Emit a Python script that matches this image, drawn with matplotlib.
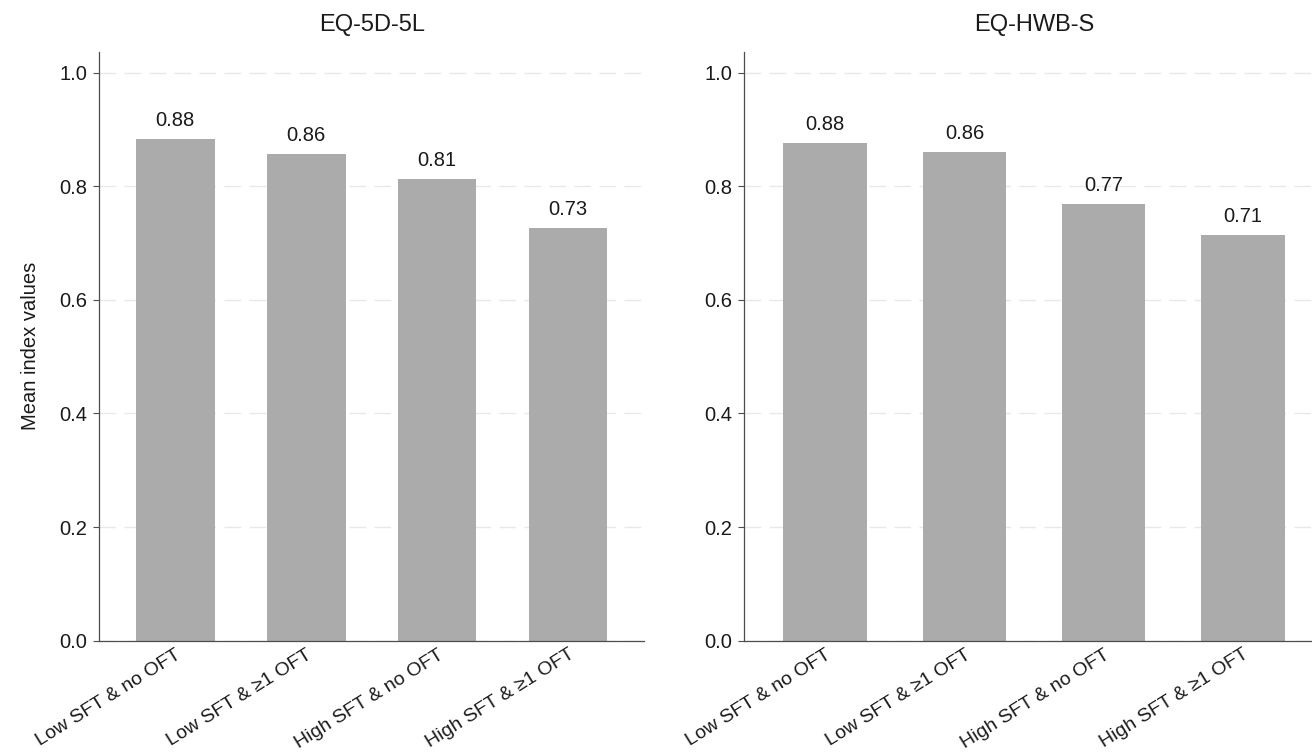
import matplotlib
matplotlib.use("Agg")
import matplotlib.pyplot as plt
import numpy as np

plt.rcParams['font.family'] = ['Liberation Sans', 'DejaVu Sans']

# Данные
groups = ['Low SFT & no OFT', 'Low SFT & \u22651 OFT', 'High SFT & no OFT', 'High SFT & \u22651 OFT']
eq5d = [0.883, 0.857, 0.813, 0.727]
eqhwb = [0.877, 0.861, 0.769, 0.714]
titles = ['EQ-5D-5L', 'EQ-HWB-S']
yticks = [0.0, 0.2, 0.4, 0.6, 0.8, 1.0]

bar_color = '#ababab'
text_color = '#1a1a1a'
spine_color = '#4d4d4d'

fig = plt.figure(figsize=(13.12, 7.54), dpi=100)
ax1 = fig.add_axes([0.0757, 0.1505, 0.4152, 0.7806])
ax2 = fig.add_axes([0.5673, 0.1505, 0.4417, 0.7806])

x = np.arange(len(groups))

for ax, vals, title in [(ax1, eq5d, titles[0]), (ax2, eqhwb, titles[1])]:
    ax.set_axisbelow(True)
    ax.yaxis.grid(True, color='#e8e8e8', linestyle=(0, (12, 6)), linewidth=1)
    ax.bar(x, vals, width=0.6, color=bar_color, zorder=2)
    for xi, v in zip(x, vals):
        ax.annotate(f'{v:.2f}', (xi, v), xytext=(0, 9.5), textcoords='offset points',
                    ha='center', va='baseline', fontsize=14.5, color=text_color)
    ax.set_xlim(-0.58, 3.58)
    ax.set_ylim(0, 1.037)
    ax.set_yticks(yticks)
    ax.set_yticklabels([f'{t:.1f}' for t in yticks])
    ax.set_xticks(x)
    ax.set_xticklabels(groups, rotation=32, ha='right', va='top', rotation_mode='anchor')
    ax.tick_params(axis='y', length=4.5, width=0.8, color=spine_color, pad=4,
                   labelsize=14.5, labelcolor=text_color)
    ax.tick_params(axis='x', length=0, pad=4, labelsize=14, labelcolor=text_color)
    for s in ['top', 'right']:
        ax.spines[s].set_visible(False)
    for s in ['left', 'bottom']:
        ax.spines[s].set_color(spine_color)
        ax.spines[s].set_linewidth(0.9)
    ax.set_title(title, fontsize=17, color=text_color, pad=15)

ax1.set_ylabel('Mean index values', fontsize=14.5, color=text_color, labelpad=14)

fig.savefig('out.png', dpi=100, facecolor='white')
